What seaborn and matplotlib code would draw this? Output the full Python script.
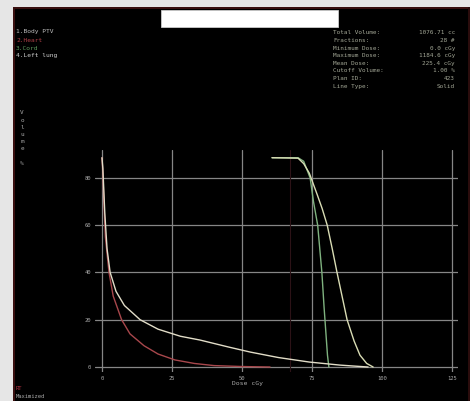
"""
DVH screenshot recreation: cumulative dose-volume curves on a black console.
Saves out.png (470x401).
"""

import numpy as np
import pandas as pd
import matplotlib.pyplot as plt
import seaborn as sns
from matplotlib.patches import Rectangle

# --- data (dose %, volume) ---
body_dose = [0, 0.3, 0.6, 1.0, 1.8, 2.9, 5, 8, 13.6, 20, 28, 35, 45, 53, 63, 74, 85, 95]
body_vol = [88.5, 84, 76, 65, 50, 40, 32, 26, 20, 16, 13, 11.4, 8.5, 6.3, 4, 2.1, 0.8, 0]

heart_dose = [0, 0.3, 0.6, 1.2, 2.5, 4, 7, 10, 15, 20, 26, 33, 40, 50, 60]
heart_vol = [88.5, 82, 72, 55, 40, 30, 20, 14, 9, 5.5, 3, 1.5, 0.6, 0.2, 0]

cord_dose = [60.7, 70, 72, 74.3, 75.5, 77, 78.5, 79.3, 80.5, 81]
cord_vol = [88.5, 88.5, 87, 80, 70, 60, 40, 25, 5, 0]

ptv_dose = [60.7, 70, 72, 74, 76.8, 78.6, 80.4, 82.2, 83.9, 87.5, 90, 92.1, 94.5, 96.8]
ptv_vol = [88.5, 88.3, 86, 82, 73, 67, 60, 50, 40, 20, 11, 5, 1.5, 0]

structures = ["1.Body PTV", "2.Heart", "3.Cord", "4.Left lung"]
colors = ["#e2ddc8", "#a8474c", "#7fb27f", "#d9dcb4"]
label_colors = ["#bdbdbd", "#b04048", "#5e9a5e", "#cfcfcf"]
draw_order = ["2.Heart", "3.Cord", "4.Left lung", "1.Body PTV"]

x_ticks = [0, 25, 50, 75, 100, 125]
y_ticks = [0, 20, 40, 60, 80]

stat_names = ["Total Volume:", "Fractions:", "Minimum Dose:", "Maximum Dose:",
              "Mean Dose:", "Cutoff Volume:", "Plan ID:", "Line Type:"]
stat_values = ["1076.71 cc", "28 #", "0.0 cGy", "1184.6 cGy",
               "225.4 cGy", "1.00 %", "423", "Solid"]


def main():
    sns.set_theme(style="dark", rc={
        "axes.facecolor": "black",
        "figure.facecolor": "black",
        "grid.color": "#868686",
        "grid.linewidth": 0.9,
    })
    plt.rcParams["font.family"] = ["DejaVu Sans Mono", "DejaVu Sans"]

    frames = []
    for name, d, v in zip(structures,
                          [body_dose, heart_dose, cord_dose, ptv_dose],
                          [body_vol, heart_vol, cord_vol, ptv_vol]):
        frames.append(pd.DataFrame({"dose": d, "volume": v, "structure": name}))
    df = pd.concat(frames, ignore_index=True)
    palette = dict(zip(structures, colors))

    fig = plt.figure(figsize=(4.70, 4.01), dpi=100)

    # screenshot chrome: gray window edges, maroon frame, blanked-out title box
    fig.patches.append(Rectangle((0, 0), 13 / 470, 1, transform=fig.transFigure,
                                 facecolor="#e6e6e6", edgecolor="none", zorder=0))
    fig.patches.append(Rectangle((0, 1 - 7 / 401), 1, 7 / 401, transform=fig.transFigure,
                                 facecolor="#e6e6e6", edgecolor="none", zorder=0))
    fig.patches.append(Rectangle((13 / 470, 0), 2 / 470, 1 - 7 / 401, transform=fig.transFigure,
                                 facecolor="#3a1010", edgecolor="none", zorder=0))
    fig.patches.append(Rectangle((13 / 470, 1 - 9 / 401), 457 / 470, 2 / 401,
                                 transform=fig.transFigure, facecolor="#3a1010",
                                 edgecolor="none", zorder=0))
    fig.patches.append(Rectangle((468 / 470, 0), 2 / 470, 1 - 7 / 401, transform=fig.transFigure,
                                 facecolor="#2a0c0c", edgecolor="none", zorder=0))
    fig.patches.append(Rectangle((161 / 470, 1 - 27 / 401), 177 / 470, 17 / 401,
                                 transform=fig.transFigure, facecolor="white",
                                 edgecolor="#cccccc", linewidth=0.6, zorder=1))

    ax = fig.add_axes([95 / 470, 29 / 401, 363 / 470, 222 / 401])
    ax.axvline(67, color="#2c1216", linewidth=0.8, zorder=1)
    sns.lineplot(data=df, x="dose", y="volume", hue="structure", hue_order=draw_order,
                 palette=palette, sort=False, estimator=None, linewidth=1.0,
                 legend=False, ax=ax)

    ax.set_xlim(-2.5, 127.1)
    ax.set_ylim(-2.11, 91.76)
    ax.set_xticks(x_ticks)
    ax.set_yticks(y_ticks)
    ax.grid(True)
    for s in ax.spines.values():
        s.set_visible(False)
    ax.tick_params(length=0, labelsize=4, colors="#a8a8a8", pad=3)
    ax.set_xlabel("")
    ax.set_ylabel("")

    # structure list, top left
    for i, (name, c) in enumerate(zip(structures, label_colors)):
        fig.text(16 / 470, 1 - (32 + 8 * i) / 401, name, fontsize=4.5,
                 color=c, va="center", ha="left")

    # statistics block, top right
    for i, (n, v) in enumerate(zip(stat_names, stat_values)):
        y = 1 - (33 + 7.6 * i) / 401
        fig.text(333 / 470, y, n, fontsize=4.3, color="#a3a796", va="center", ha="left")
        fig.text(455 / 470, y, v, fontsize=4.3, color="#a3a796", va="center", ha="right")

    # stacked axis title and dose label
    fig.text(22 / 470, 1 - 138 / 401, "V\no\nl\nu\nm\ne\n\n%", fontsize=4.3,
             color="#a8a8a8", ha="center", va="center", linespacing=1.55)
    fig.text(248 / 470, 1 - 384 / 401, "Dose cGy", fontsize=4.6,
             color="#a8a8a8", ha="center", va="center")

    fig.text(16 / 470, 1 - 388 / 401, "RT", fontsize=4, color="#b03040", va="center")
    fig.text(16 / 470, 1 - 396 / 401, "Maximized", fontsize=4, color="#a8a8a8", va="center")

    fig.savefig("out.png", dpi=100, facecolor="black")
    plt.close(fig)


if __name__ == "__main__":
    main()
